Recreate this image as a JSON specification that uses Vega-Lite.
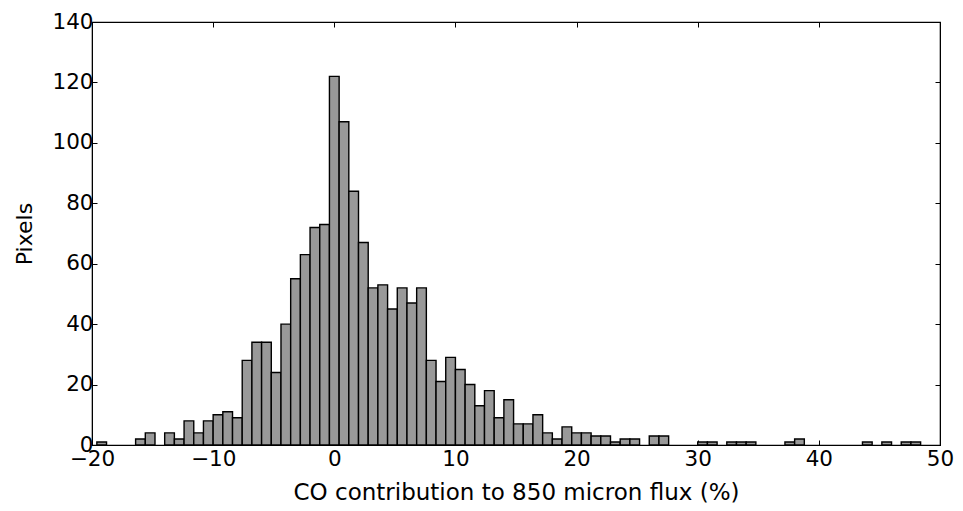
{
  "$schema": "https://vega.github.io/schema/vega-lite/v6.json",
  "autosize": {"type": "none"},
  "padding": {"left": 92, "top": 22, "right": 23, "bottom": 66},
  "width": 848,
  "height": 423,
  "config": {
    "view": {"stroke": "black", "strokeWidth": 1.2},
    "font": "DejaVu Sans",
    "axis": {
      "labelFont": "DejaVu Sans",
      "titleFont": "DejaVu Sans",
      "labelFontSize": 21.5,
      "titleFontSize": 22,
      "titleFontWeight": "normal",
      "labelColor": "black",
      "titleColor": "black",
      "tickColor": "black",
      "domainColor": "black",
      "tickSize": -5,
      "tickWidth": 1,
      "grid": false
    }
  },
  "data": {
    "values": [
      {"bin_start": -19.6, "bin_end": -18.8, "count": 1},
      {"bin_start": -16.4, "bin_end": -15.6, "count": 2},
      {"bin_start": -15.6, "bin_end": -14.8, "count": 4},
      {"bin_start": -14.0, "bin_end": -13.2, "count": 4},
      {"bin_start": -13.2, "bin_end": -12.4, "count": 2},
      {"bin_start": -12.4, "bin_end": -11.6, "count": 8},
      {"bin_start": -11.6, "bin_end": -10.8, "count": 4},
      {"bin_start": -10.8, "bin_end": -10.0, "count": 8},
      {"bin_start": -10.0, "bin_end": -9.2, "count": 10},
      {"bin_start": -9.2, "bin_end": -8.4, "count": 11},
      {"bin_start": -8.4, "bin_end": -7.6, "count": 9},
      {"bin_start": -7.6, "bin_end": -6.8, "count": 28},
      {"bin_start": -6.8, "bin_end": -6.0, "count": 34},
      {"bin_start": -6.0, "bin_end": -5.2, "count": 34},
      {"bin_start": -5.2, "bin_end": -4.4, "count": 24},
      {"bin_start": -4.4, "bin_end": -3.6, "count": 40},
      {"bin_start": -3.6, "bin_end": -2.8, "count": 55},
      {"bin_start": -2.8, "bin_end": -2.0, "count": 63},
      {"bin_start": -2.0, "bin_end": -1.2, "count": 72},
      {"bin_start": -1.2, "bin_end": -0.4, "count": 73},
      {"bin_start": -0.4, "bin_end": 0.4, "count": 122},
      {"bin_start": 0.4, "bin_end": 1.2, "count": 107},
      {"bin_start": 1.2, "bin_end": 2.0, "count": 84},
      {"bin_start": 2.0, "bin_end": 2.8, "count": 67},
      {"bin_start": 2.8, "bin_end": 3.6, "count": 52},
      {"bin_start": 3.6, "bin_end": 4.4, "count": 53},
      {"bin_start": 4.4, "bin_end": 5.2, "count": 45},
      {"bin_start": 5.2, "bin_end": 6.0, "count": 52},
      {"bin_start": 6.0, "bin_end": 6.8, "count": 47},
      {"bin_start": 6.8, "bin_end": 7.6, "count": 52},
      {"bin_start": 7.6, "bin_end": 8.4, "count": 28},
      {"bin_start": 8.4, "bin_end": 9.2, "count": 21},
      {"bin_start": 9.2, "bin_end": 10.0, "count": 29},
      {"bin_start": 10.0, "bin_end": 10.8, "count": 25},
      {"bin_start": 10.8, "bin_end": 11.6, "count": 20},
      {"bin_start": 11.6, "bin_end": 12.4, "count": 13},
      {"bin_start": 12.4, "bin_end": 13.2, "count": 18},
      {"bin_start": 13.2, "bin_end": 14.0, "count": 9},
      {"bin_start": 14.0, "bin_end": 14.8, "count": 15},
      {"bin_start": 14.8, "bin_end": 15.6, "count": 7},
      {"bin_start": 15.6, "bin_end": 16.4, "count": 7},
      {"bin_start": 16.4, "bin_end": 17.2, "count": 10},
      {"bin_start": 17.2, "bin_end": 18.0, "count": 4},
      {"bin_start": 18.0, "bin_end": 18.8, "count": 2},
      {"bin_start": 18.8, "bin_end": 19.6, "count": 6},
      {"bin_start": 19.6, "bin_end": 20.4, "count": 4},
      {"bin_start": 20.4, "bin_end": 21.2, "count": 4},
      {"bin_start": 21.2, "bin_end": 22.0, "count": 3},
      {"bin_start": 22.0, "bin_end": 22.8, "count": 3},
      {"bin_start": 22.8, "bin_end": 23.6, "count": 1},
      {"bin_start": 23.6, "bin_end": 24.4, "count": 2},
      {"bin_start": 24.4, "bin_end": 25.2, "count": 2},
      {"bin_start": 26.0, "bin_end": 26.8, "count": 3},
      {"bin_start": 26.8, "bin_end": 27.6, "count": 3},
      {"bin_start": 30.0, "bin_end": 30.8, "count": 1},
      {"bin_start": 30.8, "bin_end": 31.6, "count": 1},
      {"bin_start": 32.4, "bin_end": 33.2, "count": 1},
      {"bin_start": 33.2, "bin_end": 34.0, "count": 1},
      {"bin_start": 34.0, "bin_end": 34.8, "count": 1},
      {"bin_start": 37.2, "bin_end": 38.0, "count": 1},
      {"bin_start": 38.0, "bin_end": 38.8, "count": 2},
      {"bin_start": 43.6, "bin_end": 44.4, "count": 1},
      {"bin_start": 45.2, "bin_end": 46.0, "count": 1},
      {"bin_start": 46.8, "bin_end": 47.6, "count": 1},
      {"bin_start": 47.6, "bin_end": 48.4, "count": 1}
    ]
  },
  "layer": [
    {
      "mark": {"type": "bar", "fill": "#999999", "stroke": "black", "strokeWidth": 1.4},
      "encoding": {
        "x": {
          "field": "bin_start", "type": "quantitative",
          "scale": {"domain": [-20, 50], "nice": false, "zero": false},
          "axis": {"values": [-20, -10, 0, 10, 20, 30, 40, 50], "title": "CO contribution to 850 micron flux (%)", "titleFontSize": 23, "labelPadding": 8, "titlePadding": 12, "labelFlush": false}
        },
        "x2": {"field": "bin_end"},
        "y": {
          "field": "count", "type": "quantitative",
          "scale": {"domain": [0, 140], "nice": false},
          "axis": {"values": [0, 20, 40, 60, 80, 100, 120, 140], "title": "Pixels", "labelPadding": 4, "titlePadding": 15, "labelFlush": false}
        },
        "y2": {"datum": 0}
      }
    },
    {
      "mark": {"type": "bar", "opacity": 0},
      "encoding": {
        "x": {
          "field": "bin_start", "type": "quantitative",
          "scale": {"domain": [-20, 50], "nice": false, "zero": false},
          "axis": {"orient": "top", "values": [-20, -10, 0, 10, 20, 30, 40, 50], "labels": false, "title": null}
        },
        "x2": {"field": "bin_end"},
        "y": {
          "field": "count", "type": "quantitative",
          "scale": {"domain": [0, 140], "nice": false},
          "axis": {"orient": "right", "values": [0, 20, 40, 60, 80, 100, 120, 140], "labels": false, "title": null}
        },
        "y2": {"datum": 0}
      }
    }
  ],
  "resolve": {"axis": {"x": "independent", "y": "independent"}}
}
